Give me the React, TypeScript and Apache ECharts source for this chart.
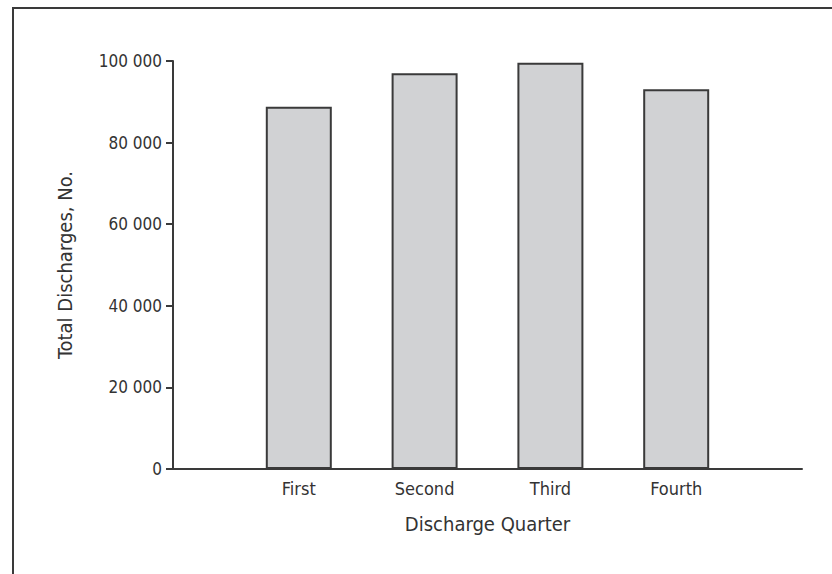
import React, { useEffect, useRef } from "react";
import * as echarts from "echarts";

const categories = ["", "First", "Second", "Third", "Fourth", ""];
const discharges = [null, 88800, 97000, 99600, 93100, null];
const yTicks = { min: 0, max: 100000, interval: 20000 };
const xAxisTitle = "Discharge Quarter";
const yAxisTitle = "Total Discharges, No.";

const FONT = "'Liberation Sans Narrow', 'DejaVu Sans Condensed', 'Roboto Condensed', 'Liberation Sans', sans-serif";
const TEXT = "#333333";

function fmt(v: number): string {
  return String(v).replace(/\B(?=(\d{3})+(?!\d))/g, " ");
}

export default function App() {
  const ref = useRef<HTMLDivElement>(null);
  useEffect(() => {
    document.body.style.margin = "0";
    const chart = echarts.init(ref.current!, undefined, { renderer: "svg" });
    chart.setOption({
      animation: false,
      backgroundColor: "#ffffff",
      graphic: [
        {
          type: "rect",
          shape: { x: 13, y: 8, width: 900, height: 700 },
          style: { fill: "none", stroke: "#3a3a3a", lineWidth: 2 },
          silent: true,
        },
      ],
      grid: { left: 173, right: 30, top: 61, bottom: 105, containLabel: false },
      xAxis: {
        type: "category",
        data: categories,
        boundaryGap: false,
        axisLine: { show: true, lineStyle: { color: "#3a3a3a", width: 2 } },
        axisTick: { show: false },
        axisLabel: { color: TEXT, fontFamily: FONT, fontSize: 18, margin: 10 },
        name: xAxisTitle,
        nameLocation: "middle",
        nameGap: 45,
        nameTextStyle: { color: TEXT, fontFamily: FONT, fontSize: 20 },
        splitLine: { show: false },
      },
      yAxis: {
        type: "value",
        min: yTicks.min,
        max: yTicks.max,
        interval: yTicks.interval,
        axisLine: { show: true, lineStyle: { color: "#3a3a3a", width: 2 } },
        axisTick: { show: true, length: 7, lineStyle: { color: "#3a3a3a", width: 2 } },
        axisLabel: {
          color: TEXT,
          fontFamily: FONT,
          fontSize: 17,
          margin: 11,
          formatter: (v: number) => fmt(v),
        },
        splitLine: { show: false },
        name: yAxisTitle,
        nameLocation: "middle",
        nameGap: 98,
        nameRotate: 90,
        nameTextStyle: { color: TEXT, fontFamily: FONT, fontSize: 20 },
      },
      series: [
        {
          type: "bar",
          data: discharges,
          barWidth: 66,
          itemStyle: { color: "#d1d2d4", borderColor: "#3a3a3a", borderWidth: 2 },
        },
      ],
    });
    return () => chart.dispose();
  }, []);
  return <div ref={ref} style={{ width: 832, height: 574 }} />;
}
